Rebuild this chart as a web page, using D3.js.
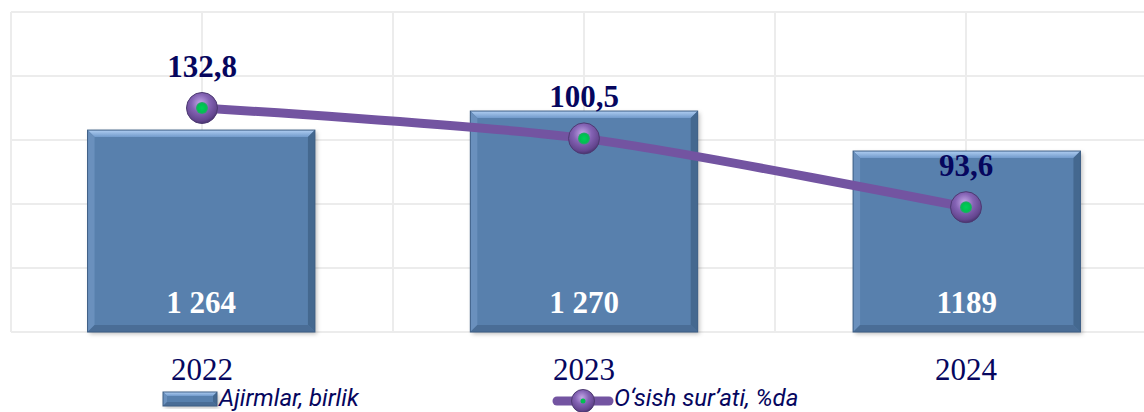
<!DOCTYPE html>
<html>
<head>
<meta charset="utf-8">
<script src="https://cdn.jsdelivr.net/npm/d3@7"></script>
<style>
  body { margin: 0; background: #fff; }
  svg { display: block; }
</style>
</head>
<body>
<svg width="1144" height="412"></svg>
<script>
// data
const years = ["2022", "2023", "2024"];
// bar heights as drawn (0-2000 axis, gridline every 400)
const barValues = [1262, 1381, 1131];
const barLabels = ["1 264", "1 270", "1189"];
const gridTicks = [0, 400, 800, 1200, 1600, 2000];
// line points as drawn (secondary axis 0-200)
const rateValues = [140, 121, 78];
const rateLabels = ["132,8", "100,5", "93,6"];
const legendNames = ["Ajirmlar, birlik", "O\u2018sish sur\u2019ati, %da"];

const svg = d3.select("svg");
const width = 1144, height = 412;
const plot = {left: 11, right: 1157, top: 12, bottom: 332};

const x = d3.scaleBand().domain(years).range([plot.left, plot.right]).padding(0);
const xBar = d3.scaleBand().domain(years).range([plot.left, plot.right]).paddingInner(0.406).paddingOuter(0.2);
const y = d3.scaleLinear().domain([0, 2000]).range([plot.bottom, plot.top]);
const y2 = d3.scaleLinear().domain([0, 200]).range([plot.bottom, plot.top]);

const navy = "#06065e";
const defs = svg.append("defs");

// marker gradient
const rg = defs.append("radialGradient").attr("id", "ball")
  .attr("cx", "45%").attr("cy", "35%").attr("r", "65%");
rg.append("stop").attr("offset", "0%").attr("stop-color", "#c4a8e8");
rg.append("stop").attr("offset", "45%").attr("stop-color", "#8463b4");
rg.append("stop").attr("offset", "85%").attr("stop-color", "#64468f");
rg.append("stop").attr("offset", "100%").attr("stop-color", "#4a3470");

const gg = defs.append("radialGradient").attr("id", "dot");
gg.append("stop").attr("offset", "0%").attr("stop-color", "#00d05a");
gg.append("stop").attr("offset", "70%").attr("stop-color", "#00c050");
gg.append("stop").attr("offset", "100%").attr("stop-color", "#30a070");

const topG = defs.append("linearGradient").attr("id", "bevTop").attr("x1", 0).attr("y1", 0).attr("x2", 0).attr("y2", 1);
topG.append("stop").attr("offset", "0%").attr("stop-color", "#b0cef2");
topG.append("stop").attr("offset", "100%").attr("stop-color", "#719acb");

defs.append("filter").attr("id", "shadow").attr("x", "-10%").attr("y", "-10%").attr("width", "130%").attr("height", "130%")
  .append("feDropShadow").attr("dx", 2).attr("dy", 2).attr("stdDeviation", 2).attr("flood-color", "#000").attr("flood-opacity", 0.25);

// gridlines
const grid = svg.append("g").attr("stroke", "#ececec").attr("stroke-width", 2);
grid.selectAll("line.h").data(gridTicks).join("line")
  .attr("x1", plot.left).attr("x2", width)
  .attr("y1", d => y(d)).attr("y2", d => y(d));
const vx = [];
years.forEach(d => { vx.push(x(d)); vx.push(x(d) + x.bandwidth() / 2); });
vx.push(plot.right);
grid.selectAll("line.v").data(vx).join("line")
  .attr("x1", d => d).attr("x2", d => d)
  .attr("y1", plot.top).attr("y2", plot.bottom);

// bevelled bar helper
function bevelBar(g, x0, y0, w, h, b) {
  const x1 = x0 + w, y1 = y0 + h;
  g.append("rect").attr("x", x0).attr("y", y0).attr("width", w).attr("height", h)
    .attr("fill", "#5880ad").attr("filter", "url(#shadow)");
  g.append("polygon").attr("points", [[x0, y0], [x1, y0], [x1 - b, y0 + b], [x0 + b, y0 + b]].join(" "))
    .attr("fill", "url(#bevTop)");
  g.append("polygon").attr("points", [[x0, y0], [x0 + b, y0 + b], [x0 + b, y1 - b], [x0, y1]].join(" "))
    .attr("fill", "#6a90bd");
  g.append("polygon").attr("points", [[x1, y0], [x1, y1], [x1 - b, y1 - b], [x1 - b, y0 + b]].join(" "))
    .attr("fill", "#44688f");
  g.append("polygon").attr("points", [[x0, y1], [x0 + b, y1 - b], [x1 - b, y1 - b], [x1, y1]].join(" "))
    .attr("fill", "#4a6d96");
  g.append("rect").attr("x", x0).attr("y", y0).attr("width", w).attr("height", h)
    .attr("fill", "none").attr("stroke", "#3d5e85").attr("stroke-width", 1);
}

// bars
const bars = svg.append("g");
years.forEach((d, i) => {
  bevelBar(bars, xBar(d), y(barValues[i]), xBar.bandwidth(), plot.bottom - y(barValues[i]), 7);
});

bars.selectAll("text").data(barLabels).join("text")
  .attr("x", (d, i) => xBar(years[i]) + xBar.bandwidth() / 2)
  .attr("y", 313)
  .attr("text-anchor", "middle")
  .attr("fill", "#fff")
  .style("font-family", "'Liberation Serif', 'Times New Roman', serif")
  .style("font-weight", "bold")
  .style("font-size", "31px")
  .text(d => d);

// line
const cx = d => x(d) + x.bandwidth() / 2;
const line = d3.line().x((d, i) => cx(years[i])).y(d => y2(d)).curve(d3.curveCardinal.tension(0.2));
svg.append("path").datum(rateValues)
  .attr("d", line)
  .attr("fill", "none")
  .attr("stroke", "#7354a1")
  .attr("stroke-width", 9)
  .attr("stroke-linecap", "butt");

const markers = svg.append("g");
markers.selectAll("circle.ball").data(rateValues).join("circle")
  .attr("class", "ball")
  .attr("cx", (d, i) => cx(years[i])).attr("cy", d => y2(d))
  .attr("r", 15.5).attr("fill", "url(#ball)")
  .attr("stroke", "#4d3a72").attr("stroke-width", 1);
markers.selectAll("circle.dot").data(rateValues).join("circle")
  .attr("class", "dot")
  .attr("cx", (d, i) => cx(years[i])).attr("cy", d => y2(d))
  .attr("r", 6).attr("fill", "url(#dot)");

svg.append("g").selectAll("text").data(rateLabels).join("text")
  .attr("x", (d, i) => cx(years[i]))
  .attr("y", (d, i) => y2(rateValues[i]) - 31)
  .attr("text-anchor", "middle")
  .attr("fill", navy)
  .style("font-family", "'Liberation Serif', 'Times New Roman', serif")
  .style("font-weight", "bold")
  .style("font-size", "31px")
  .text(d => d);

// category labels
svg.append("g").selectAll("text").data(years).join("text")
  .attr("x", d => cx(d))
  .attr("y", 380)
  .attr("text-anchor", "middle")
  .attr("fill", navy)
  .style("font-family", "'Liberation Serif', 'Times New Roman', serif")
  .style("font-size", "31px")
  .text(d => d);

// legend
const leg = svg.append("g");
const l1 = leg.append("g");
bevelBar(l1, 163, 392, 54, 14, 4);
leg.append("text").attr("x", 219).attr("y", 406)
  .attr("fill", navy)
  .style("font-family", "Roboto, 'Noto Sans', sans-serif")
  .style("font-style", "italic")
  .style("font-size", "24px")
  .text(legendNames[0]);

leg.append("line").attr("x1", 557).attr("x2", 609).attr("y1", 401).attr("y2", 401)
  .attr("stroke", "#7354a1").attr("stroke-width", 9).attr("stroke-linecap", "round");
leg.append("circle").attr("cx", 583).attr("cy", 401).attr("r", 11.5)
  .attr("fill", "url(#ball)").attr("stroke", "#4d3a72").attr("stroke-width", 1);
leg.append("circle").attr("cx", 583).attr("cy", 401).attr("r", 2.5).attr("fill", "#00c050");
leg.append("text").attr("x", 614).attr("y", 406)
  .attr("fill", navy)
  .style("font-family", "Roboto, 'Noto Sans', sans-serif")
  .style("font-style", "italic")
  .style("font-size", "24px")
  .text(legendNames[1]);
</script>
</body>
</html>
